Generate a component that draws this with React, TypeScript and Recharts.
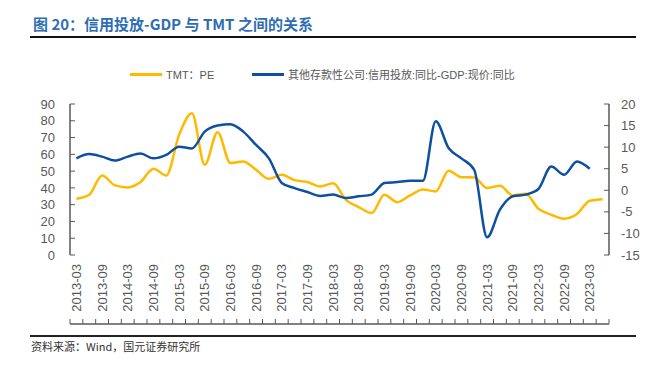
import { LineChart, Line, XAxis, YAxis } from "recharts";

const QUARTERS = [
  "2013-03", "2013-06", "2013-09", "2013-12",
  "2014-03", "2014-06", "2014-09", "2014-12",
  "2015-03", "2015-06", "2015-09", "2015-12",
  "2016-03", "2016-06", "2016-09", "2016-12",
  "2017-03", "2017-06", "2017-09", "2017-12",
  "2018-03", "2018-06", "2018-09", "2018-12",
  "2019-03", "2019-06", "2019-09", "2019-12",
  "2020-03", "2020-06", "2020-09", "2020-12",
  "2021-03", "2021-06", "2021-09", "2021-12",
  "2022-03", "2022-06", "2022-09", "2022-12",
  "2023-03", "2023-06",
];

// TMT：PE（左轴）
const TMT_PE = [
  33.5, 35.9, 47.4, 41.5, 40.3, 43.5, 51.4, 47.4,
  71.6, 84.5, 53.8, 73.2, 54.8, 55.8, 50.8, 45.4,
  47.8, 44.6, 43.5, 40.9, 42.7, 32.9, 28.6, 25.0,
  35.9, 31.5, 35.5, 39.1, 37.9, 50.2, 46.4, 46.2,
  39.9, 41.3, 35.5, 36.5, 27.6, 24.0, 21.6, 24.4,
  32.3, 33.3,
];

// 信用投放同比-GDP现价同比（右轴）
const CREDIT_GDP: (number | null)[] = [
  7.4, 8.4, 7.8, 6.9, 7.8, 8.5, 7.4, 8.2,
  10.1, 9.7, 13.6, 15.0, 15.3, 13.6, 10.5, 7.4,
  1.7, 0.5, -0.4, -1.3, -1.0, -1.8, -1.4, -1.0,
  1.7, 1.9, 2.2, 2.2, 16.0, 9.8, 7.4, 4.7,
  -10.9, -4.5, -1.4, -1.0, 0.3, 5.5, 3.6, 6.7,
  5.0, null,
];

const LEFT_TICKS = [0, 10, 20, 30, 40, 50, 60, 70, 80, 90];
const RIGHT_TICKS = [-15, -10, -5, 0, 5, 10, 15, 20];

const YELLOW = "#FFB900";
const BLUE = "#0F4FA0";
const GREY = "#595959";
const FONT = '"Liberation Sans", Arial, "Noto Sans CJK SC", sans-serif';

const data = QUARTERS.map((q, i) => ({
  x: i,
  q,
  pe: TMT_PE[i],
  credit: CREDIT_GDP[i],
}));

const boundaryTicks = QUARTERS.map((_, i) => i - 0.5).concat(QUARTERS.length - 0.5);
const labelTicks = QUARTERS.map((_, i) => i).filter((i) => /-(03|09)$/.test(QUARTERS[i]));
const xDomain = [-0.5, QUARTERS.length - 0.5];

function QuarterTick({ x, y, payload }: any) {
  return (
    <text
      x={x}
      y={y}
      transform={`rotate(-90 ${x} ${y})`}
      textAnchor="end"
      dy="0.35em"
      fill={GREY}
      fontSize={13}
      fontFamily={FONT}
    >
      {QUARTERS[payload.value]}
    </text>
  );
}

function LegendItem({ color, label, left }: { color: string; label: string; left: number }) {
  return (
    <div style={{ position: "absolute", left, top: 66, display: "flex", alignItems: "center", height: 16 }}>
      <span style={{ display: "inline-block", width: 32, height: 3, background: color, marginRight: 4 }} />
      <span style={{ fontSize: 11, color: GREY, fontFamily: FONT, whiteSpace: "nowrap" }}>{label}</span>
    </div>
  );
}

export default function App() {
  return (
    <div style={{ position: "absolute", left: 0, top: 0, width: 665, height: 368, background: "#fff" }}>
      <div
        style={{
          position: "absolute",
          left: 33,
          top: 13,
          fontSize: 15,
          fontWeight: 700,
          color: "#2E6DB4",
          fontFamily: '"Noto Sans CJK SC", sans-serif',
          whiteSpace: "nowrap",
          lineHeight: "22px",
        }}
      >
        图 20：信用投放-GDP 与 TMT 之间的关系
      </div>
      <div style={{ position: "absolute", left: 30, top: 36, width: 606, height: 2, background: "#111" }} />

      <LegendItem color={YELLOW} label="TMT：PE" left={130} />
      <LegendItem color={BLUE} label="其他存款性公司:信用投放:同比-GDP:现价:同比" left={252} />

      <div style={{ position: "absolute", left: 0, top: 0 }}>
        <LineChart width={665} height={368} data={data} margin={{ top: 104, right: 11, bottom: 43, left: 25 }}>
          <XAxis
            xAxisId="q"
            dataKey="x"
            type="number"
            domain={xDomain}
            ticks={boundaryTicks}
            interval={0}
            height={1}
            tick={() => <g />}
            tickSize={-5}
            axisLine={{ stroke: GREY, strokeWidth: 1.5 }}
            tickLine={{ stroke: GREY, strokeWidth: 1 }}
          />
          <XAxis
            xAxisId="label"
            dataKey="x"
            type="number"
            domain={xDomain}
            ticks={labelTicks}
            interval={0}
            height={69}
            tick={<QuarterTick />}
            tickSize={0}
            tickMargin={9}
            axisLine={false}
            tickLine={false}
          />
          <YAxis
            yAxisId="l"
            orientation="left"
            domain={[0, 90]}
            ticks={LEFT_TICKS}
            interval={0}
            width={45}
            tickSize={-5}
            tickMargin={20}
            tick={{ fill: GREY, fontSize: 13, fontFamily: FONT }}
            axisLine={{ stroke: GREY, strokeWidth: 1.5 }}
            tickLine={{ stroke: GREY, strokeWidth: 1 }}
          />
          <YAxis
            yAxisId="r"
            orientation="right"
            domain={[-15, 20]}
            ticks={RIGHT_TICKS}
            interval={0}
            width={45}
            tickSize={-5}
            tickMargin={17}
            tick={{ fill: GREY, fontSize: 13, fontFamily: FONT, textAnchor: "start" }}
            axisLine={{ stroke: GREY, strokeWidth: 1.5 }}
            tickLine={{ stroke: GREY, strokeWidth: 1 }}
          />
          <Line
            xAxisId="q"
            yAxisId="l"
            type="monotone"
            dataKey="pe"
            stroke={YELLOW}
            strokeWidth={2.5}
            dot={false}
            isAnimationActive={false}
          />
          <Line
            xAxisId="q"
            yAxisId="r"
            type="monotone"
            dataKey="credit"
            stroke={BLUE}
            strokeWidth={2.5}
            dot={false}
            isAnimationActive={false}
          />
        </LineChart>
      </div>

      <div style={{ position: "absolute", left: 30, top: 335, width: 606, height: 2, background: "#222" }} />
      <div
        style={{
          position: "absolute",
          left: 31,
          top: 339,
          fontSize: 11,
          color: "#333",
          fontFamily: '"Noto Sans CJK SC", sans-serif',
          whiteSpace: "nowrap",
          lineHeight: "14px",
        }}
      >
        资料来源：Wind，国元证券研究所
      </div>
    </div>
  );
}
